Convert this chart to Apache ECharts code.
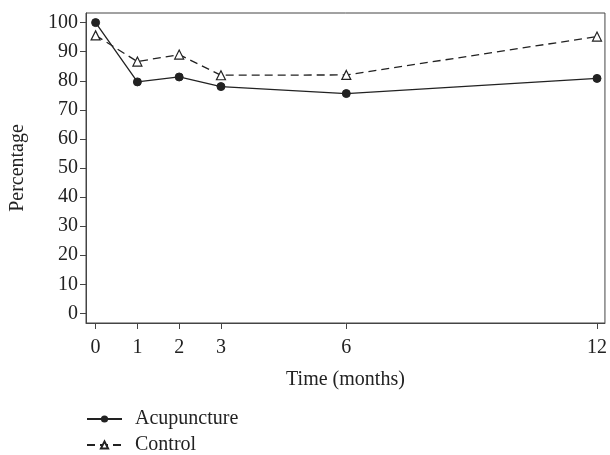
<!DOCTYPE html>
<html>
<head>
<meta charset="utf-8">
<script src="https://cdn.jsdelivr.net/npm/echarts@6/dist/echarts.min.js"></script>
<style>
  html, body { margin: 0; padding: 0; background: #fff; }
  #chart { width: 610px; height: 455px; }
</style>
</head>
<body>
<div id="chart"></div>
<script>
// months of follow-up
var months = [0, 1, 2, 3, 6, 12];
var acupuncture = [100, 79.6, 81.3, 78.0, 75.6, 80.8];
var control = [95.6, 86.6, 89.0, 81.9, 82.0, 95.2];
var yTicks = [0, 10, 20, 30, 40, 50, 60, 70, 80, 90, 100];

function pairs(xs, ys) {
    var out = [];
    for (var i = 0; i < xs.length; i++) out.push([xs[i], ys[i]]);
    return out;
}

var serif = '"Liberation Serif", "DejaVu Serif", serif';
var ink = '#222';
var fs = 20;

var myChart = echarts.init(document.getElementById('chart'));
var option = {
    backgroundColor: '#fff',
    animation: false,
    textStyle: { fontFamily: serif, color: ink },
    grid: {
        left: 86, right: 2, top: 13, bottom: 132,
        show: true, borderColor: '#444', borderWidth: 1
    },
    legend: {
        orient: 'vertical',
        left: 86, top: 409,
        padding: 0,
        itemWidth: 35, itemHeight: 9, itemGap: 6,
        textStyle: { fontFamily: serif, fontSize: fs, color: ink, lineHeight: 20, padding: [0, 0, 0, 8] },
        data: ['Acupuncture', 'Control']
    },
    xAxis: {
        type: 'value',
        min: -0.23, max: 12.19,
        name: 'Time (months)',
        nameLocation: 'middle',
        nameGap: 47,
        nameTextStyle: { fontFamily: serif, fontSize: fs, color: ink },
        splitLine: { show: false },
        axisLine: { show: true, onZero: false, lineStyle: { color: '#444' } },
        axisTick: { show: true, length: 6, customValues: months, lineStyle: { color: '#444' } },
        axisLabel: { customValues: months, fontFamily: serif, fontSize: fs, color: ink, margin: 15 }
    },
    yAxis: {
        type: 'value',
        min: -3.3, max: 103.3,
        name: 'Percentage',
        nameLocation: 'middle',
        nameGap: 58,
        nameTextStyle: { fontFamily: serif, fontSize: fs, color: ink },
        splitLine: { show: false },
        axisLine: { show: true, onZero: false, lineStyle: { color: '#444' } },
        axisTick: { show: true, length: 6, customValues: yTicks, lineStyle: { color: '#444' } },
        axisLabel: { customValues: yTicks, fontFamily: serif, fontSize: fs, color: ink, margin: 8 }
    },
    series: [{
        name: 'Acupuncture',
        type: 'line',
        data: pairs(months, acupuncture),
        symbol: 'circle',
        symbolSize: 8,
        lineStyle: { color: ink, width: 1.3, type: 'solid' },
        itemStyle: { color: ink, borderColor: ink }
    }, {
        name: 'Control',
        type: 'line',
        data: pairs(months, control),
        symbol: 'triangle',
        symbolSize: 9,
        lineStyle: { color: ink, width: 1.3, type: [8, 5] },
        itemStyle: { color: '#fff', borderColor: ink, borderWidth: 1.2 }
    }]
};
myChart.setOption(option);
</script>
</body>
</html>
